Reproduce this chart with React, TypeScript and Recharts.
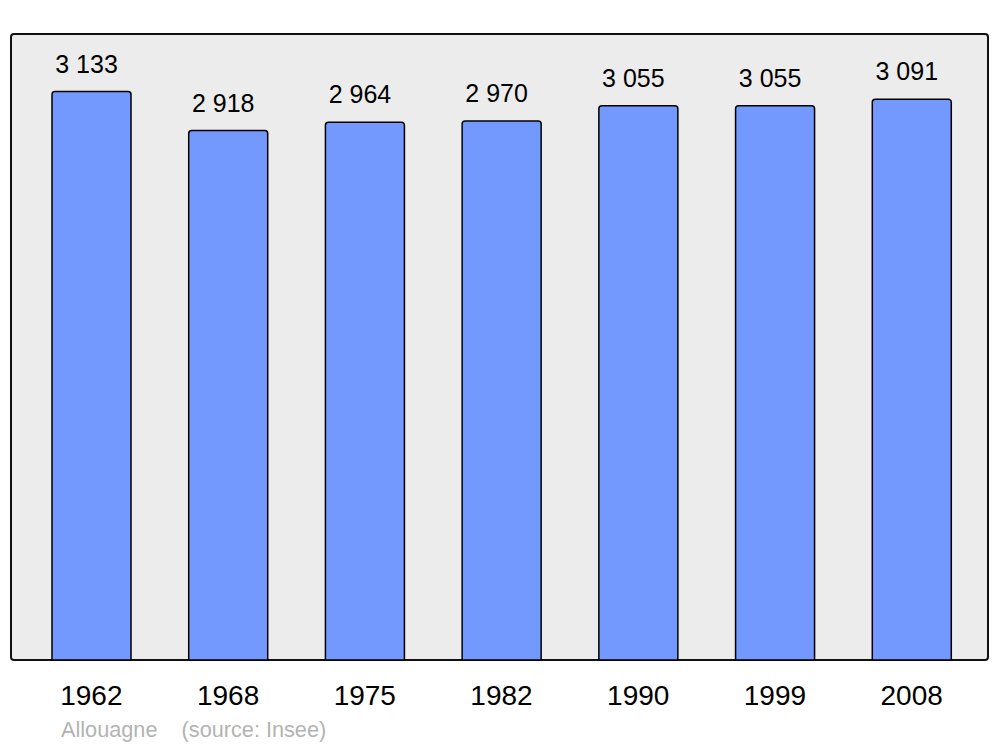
import React from "react";
import { BarChart, Bar, XAxis, YAxis, LabelList } from "recharts";

const years = ["1962", "1968", "1975", "1982", "1990", "1999", "2008"];
const population = [3133, 2918, 2964, 2970, 3055, 3055, 3091];
const commune = "Allouagne";
const source = "(source: Insee)";

const data = years.map((y, i) => ({ year: y, pop: population[i] }));

// "3 133" style thousands separator
const fmt = (v: unknown) => String(v).replace(/\B(?=(\d{3})+(?!\d))/g, " ");

const FONT = "'Liberation Sans', Arial, sans-serif";

export default function App() {
  return (
    <div style={{ position: "absolute", left: 0, top: 0, width: 1000, height: 747, background: "#fff", fontFamily: FONT }}>
      {/* frame behind the plot */}
      <div
        style={{
          position: "absolute",
          left: 10,
          top: 33,
          width: 979,
          height: 628,
          boxSizing: "border-box",
          border: "2.5px solid #111",
          borderRadius: 4,
          background: "#ececec",
        }}
      />
      <div style={{ position: "absolute", left: 0, top: 0 }}>
        <BarChart width={1000} height={747} data={data} margin={{ top: 34, right: 11, bottom: 57, left: 11 }}>
          <XAxis
            dataKey="year"
            height={30}
            axisLine={false}
            tickLine={false}
            tickSize={0}
            tickMargin={25}
            padding={{ left: 12, right: 9 }}
            tick={{ fill: "#000", fontSize: 28, fontFamily: FONT }}
            interval={0}
          />
          <YAxis hide domain={[0, 3450]} />
          <Bar
            dataKey="pop"
            barSize={79}
            fill="#7399ff"
            stroke="#000"
            strokeWidth={1.5}
            radius={[3, 3, 0, 0]}
            isAnimationActive={false}
          >
            <LabelList
              dataKey="pop"
              position="top"
              offset={19}
              dx={-5}
              formatter={fmt}
              style={{ fill: "#000", fontSize: 25, fontFamily: FONT }}
            />
          </Bar>
        </BarChart>
      </div>
      <div
        style={{
          position: "absolute",
          left: 61,
          top: 717,
          fontSize: 21.7,
          lineHeight: "25px",
          color: "#b3b3b3",
          whiteSpace: "pre",
          fontFamily: FONT,
        }}
      >
        {commune + "    " + source}
      </div>
    </div>
  );
}
